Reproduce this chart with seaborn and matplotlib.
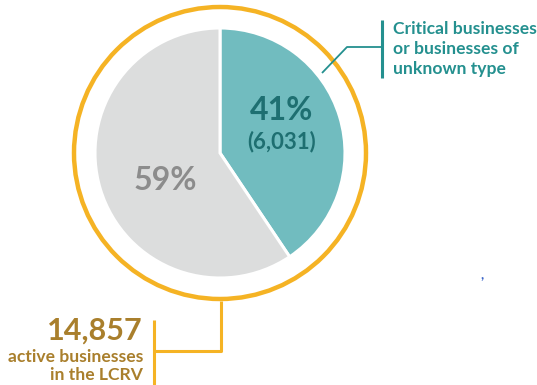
import matplotlib
matplotlib.use("Agg")
import matplotlib.pyplot as plt
from matplotlib.patches import Circle
import seaborn as sns

# Business counts
categories = ["Critical businesses\nor businesses of\nunknown type", "Other"]
total_businesses = 14857
critical_businesses = 6031
counts = [critical_businesses, total_businesses - critical_businesses]

slice_colors = ["#71BCBF", "#DCDDDD"]
ring_color = "#F5B324"

sns.set_theme(style="white")
plt.rcParams["font.family"] = ["Lato", "DejaVu Sans"]

W, H = 537, 385
fig = plt.figure(figsize=(W / 100, H / 100), dpi=100)
ax = fig.add_axes([0, 0, 1, 1])

cx, cy = 220, H - 153
pie_r, ring_r = 125, 146

ax.pie(counts, colors=slice_colors, startangle=90, counterclock=False,
       center=(cx, cy), radius=pie_r, frame=True,
       wedgeprops=dict(edgecolor="white", linewidth=2.2))
ax.set_xlim(0, W)
ax.set_ylim(0, H)
ax.set_aspect("equal")
ax.axis("off")

ax.add_patch(Circle((cx, cy), ring_r, fill=False, edgecolor=ring_color, linewidth=3.2))

pct = [round(100 * c / total_businesses) for c in counts]

# slice labels
ax.text(282, H - 111, f"{pct[0]}%", ha="center", va="center",
        fontsize=23, fontweight="bold", color="#1E6F71")
ax.text(282, H - 142, f"({critical_businesses:,})", ha="center", va="center",
        fontsize=16, fontweight="bold", color="#1E6F71")
ax.text(165, H - 181, f"{pct[1]}%", ha="center", va="center",
        fontsize=23, fontweight="bold", color="#8C8C8C")

# callout for the teal slice
teal_text = "#24908F"
ax.plot([322, 347, 382], [H - 73, H - 47, H - 47], color=teal_text, lw=1.3,
        solid_capstyle="butt")
ax.plot([382, 382], [H - 20, H - 78], color=teal_text, lw=2.2, solid_capstyle="butt")
ax.text(393, H - 49, categories[0], ha="left", va="center", fontsize=12.6,
        fontweight="bold", color=teal_text, linespacing=1.32)

# total callout
gold = "#A97F2C"
ax.plot([221, 221, 154], [H - 301, H - 351, H - 351], color=ring_color, lw=2.2,
        solid_capstyle="butt")
ax.plot([154, 154], [H - 320, 0], color=ring_color, lw=2.2, solid_capstyle="butt")
ax.text(143, H - 331, f"{total_businesses:,}", ha="right", va="center",
        fontsize=22, fontweight="bold", color=gold)
ax.text(143, H - 366, "active businesses\nin the LCRV", ha="right", va="center",
        fontsize=12.6, fontweight="bold", color=gold, linespacing=1.15)

ax.text(482, H - 275, ",", ha="center", va="center", fontsize=10,
        fontweight="bold", color="#3A64C8")

fig.savefig("out.png", dpi=100)
